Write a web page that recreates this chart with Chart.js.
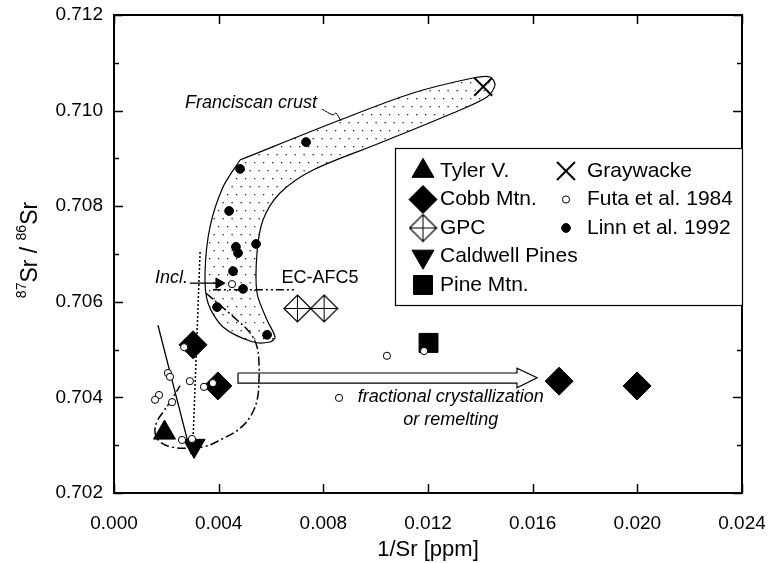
<!DOCTYPE html>
<html>
<head>
<meta charset="utf-8">
<script src="https://cdn.jsdelivr.net/npm/chart.js@4.4.1/dist/chart.umd.min.js"></script>
<style>
  html, body { margin: 0; padding: 0; background: #fff; }
  #wrap { width: 769px; height: 563px; }
</style>
</head>
<body>
<div id="wrap"><canvas id="srChart" width="769" height="563"></canvas></div>
<script>
(function () {
  'use strict';

  // x = 1/Sr [ppm], y = 87Sr/86Sr
  var tylerX = [0.00193], tylerY = [0.70326];
  var cobbX = [0.00302, 0.00397, 0.01701, 0.01999];
  var cobbY = [0.70510, 0.70424, 0.70434, 0.70424];
  var gpcX = [0.00701, 0.00803], gpcY = [0.70586, 0.70586];
  var caldX = [0.00306], caldY = [0.70299];
  var pineX = [0.01202], pineY = [0.70514];
  var grayX = [0.01411], grayY = [0.71050];
  var futaX = [0.00451, 0.01043, 0.01185, 0.00860, 0.00268, 0.00206, 0.00214, 0.00290,
               0.00344, 0.00378, 0.00172, 0.00157, 0.00222, 0.00260, 0.00298];
  var futaY = [0.70637, 0.70487, 0.70497, 0.70399, 0.70505, 0.70451, 0.70443, 0.70434,
               0.70422, 0.70430, 0.70405, 0.70395, 0.70390, 0.70311, 0.70313];
  var linnX = [0.00734, 0.00482, 0.00440, 0.00543, 0.00466, 0.00474, 0.00455, 0.00493, 0.00394, 0.00585];
  var linnY = [0.70934, 0.70878, 0.70790, 0.70721, 0.70715, 0.70702, 0.70664, 0.70627, 0.70589, 0.70531];

  // Franciscan crust field outline
  var crustX = [0.004815, 0.008637, 0.011427, 0.013720, 0.014369, 0.014561, 0.014255, 0.012955,
                0.010166, 0.007605, 0.006344, 0.005694, 0.005465, 0.005465, 0.005847, 0.006153,
                0.005962, 0.005312, 0.004166, 0.003592, 0.003478, 0.003669, 0.004166, 0.004815];
  var crustY = [0.708967, 0.709803, 0.710368, 0.710682, 0.710703, 0.710536, 0.710285, 0.709950,
                0.709322, 0.708757, 0.708276, 0.707711, 0.707021, 0.706184, 0.705619, 0.705264,
                0.705159, 0.705159, 0.705473, 0.705975, 0.706603, 0.707565, 0.708402, 0.708967];

  // model curves
  var solidX = [0.00168, 0.00294], solidY = [0.70551, 0.70282];
  var dottedX = [0.00329, 0.00302], dottedY = [0.70704, 0.70311];
  var curveX = [0.00352, 0.00405, 0.00470, 0.00520, 0.00547, 0.00554, 0.00554, 0.00547, 0.00520, 0.00474,
                0.00413, 0.00352, 0.00290, 0.00222, 0.00176, 0.00157, 0.00164, 0.00187, 0.00214, 0.00252];
  var curveY = [0.70618, 0.70593, 0.70562, 0.70535, 0.70505, 0.70472, 0.70436, 0.70395, 0.70359, 0.70332,
                0.70313, 0.70298, 0.70294, 0.70296, 0.70307, 0.70326, 0.70349, 0.70369, 0.70390, 0.70424];
  var ecX = [0.00378, 0.00692], ecY = [0.70625, 0.70625];
  var inclX = [0.00290, 0.00400], inclY = [0.70639, 0.70639];
  var inclHeadX = [0.00401], inclHeadY = [0.70639];
  var leaderX = [0.00795, 0.00837, 0.00848, 0.00868], leaderY = [0.71003, 0.70991, 0.70995, 0.70978];
  var arrowX = [0.00474, 0.01540, 0.01540, 0.01617, 0.01540, 0.01540, 0.00474, 0.00474];
  var arrowY = [0.70451, 0.70451, 0.70461, 0.70441, 0.70420, 0.70430, 0.70430, 0.70451];

  // annotations (data units)
  var noteText = ['Franciscan crust', 'Incl.', 'EC-AFC5', 'fractional crystallization', 'or remelting'];
  var noteX = [0.00271, 0.00283, 0.00787, 0.01287, 0.01287];
  var noteY = [0.71016, 0.70650, 0.70650, 0.70401, 0.70353];
  var noteAlign = ['left', 'right', 'center', 'center', 'center'];
  var noteItalic = [true, true, false, true, true];

  var FONT = "'Liberation Sans', Arial, Helvetica, sans-serif";
  Chart.defaults.font.family = FONT;
  Chart.defaults.color = '#000';

  function pts(xs, ys) {
    return xs.map(function (x, i) { return { x: x, y: ys[i] }; });
  }

  var canvas = document.getElementById('srChart');
  var ctx = canvas.getContext('2d');

  function dotPattern() {
    var c = document.createElement('canvas');
    c.width = 9; c.height = 16;
    var g = c.getContext('2d');
    g.fillStyle = '#222';
    g.fillRect(2, 2, 1.3, 1.3);
    g.fillRect(6.5, 10, 1.3, 1.3);
    return ctx.createPattern(c, 'repeat');
  }

  function gpcMarker() {
    var c = document.createElement('canvas');
    c.width = 29; c.height = 29;
    var g = c.getContext('2d'), m = 14.5, r = 13.5;
    g.fillStyle = '#fff'; g.strokeStyle = '#000'; g.lineWidth = 1.2;
    g.beginPath();
    g.moveTo(m, m - r); g.lineTo(m + r, m); g.lineTo(m, m + r); g.lineTo(m - r, m);
    g.closePath(); g.fill(); g.stroke();
    g.lineWidth = 1;
    g.beginPath();
    g.moveTo(m, m - r); g.lineTo(m, m + r);
    g.moveTo(m - r, m); g.lineTo(m + r, m);
    g.stroke();
    return c;
  }
  var gpcImg = gpcMarker();

  function markerSet(label, xs, ys, style, radius, fill, border, rot, order) {
    return {
      label: label, data: pts(xs, ys), showLine: false,
      pointStyle: style, pointRadius: radius, pointRotation: rot || 0,
      pointBackgroundColor: fill, pointBorderColor: '#000', pointBorderWidth: border,
      order: order
    };
  }

  function lineSet(xs, ys, dash, width, tension) {
    return {
      label: '', data: pts(xs, ys), showLine: true, pointRadius: 0,
      borderColor: '#000', borderWidth: width, borderDash: dash,
      tension: tension, fill: false, order: 5
    };
  }

  var tylerSet = markerSet('Tyler V.', tylerX, tylerY, 'triangle', 12.7, '#000', 1, 0, 2);
  var cobbSet = markerSet('Cobb Mtn.', cobbX, cobbY, 'rectRot', 14, '#000', 1, 0, 2);
  var gpcSet = markerSet('GPC', gpcX, gpcY, gpcImg, 14, '#fff', 1, 0, 2);
  var caldSet = markerSet('Caldwell Pines', caldX, caldY, 'triangle', 12.7, '#000', 1, 180, 2);
  var pineSet = markerSet('Pine Mtn.', pineX, pineY, 'rect', 13.4, '#000', 1, 0, 2);
  var graySet = markerSet('Graywacke', grayX, grayY, 'crossRot', 12.7, '#000', 2, 0, 2);
  var futaSet = markerSet('Futa et al. 1984', futaX, futaY, 'circle', 3.6, '#fff', 1, 0, 1);
  var linnSet = markerSet('Linn et al. 1992', linnX, linnY, 'circle', 4.4, '#000', 1, 0, 1);

  var crustSet = {
    label: '', data: pts(crustX, crustY), showLine: true, pointRadius: 0,
    borderColor: '#000', borderWidth: 1.2, tension: 0.3,
    fill: 'shape', backgroundColor: dotPattern(), order: 10
  };
  var arrowSet = {
    label: '', data: pts(arrowX, arrowY), showLine: true, pointRadius: 0,
    borderColor: '#000', borderWidth: 1.2, tension: 0,
    fill: 'shape', backgroundColor: '#fff', order: 6
  };
  var inclHead = markerSet('', inclHeadX, inclHeadY, 'triangle', 6, '#000', 1, 90, 4);

  var legendCol1 = [tylerSet, cobbSet, gpcSet, caldSet, pineSet];
  var legendCol2 = [graySet, futaSet, linnSet];

  function drawMarker(c, ds, x, y) {
    c.save();
    c.fillStyle = ds.pointBackgroundColor;
    c.strokeStyle = ds.pointBorderColor;
    c.lineWidth = ds.pointBorderWidth;
    Chart.helpers.drawPoint(c, {
      pointStyle: ds.pointStyle, rotation: ds.pointRotation,
      radius: ds.pointRadius, borderWidth: ds.pointBorderWidth
    }, x, y);
    c.restore();
  }

  var framePlugin = {
    id: 'frame',
    afterDatasetsDraw: function (chart) {
      var c = chart.ctx, a = chart.chartArea;
      var xs = chart.scales.x, ys = chart.scales.y;
      c.save();
      c.strokeStyle = '#000';
      c.lineWidth = 1.5;
      xs.ticks.forEach(function (t) {
        var px = Math.round(xs.getPixelForValue(t.value)) + 0.5;
        c.beginPath();
        c.moveTo(px, a.bottom); c.lineTo(px, a.bottom - 9);
        c.moveTo(px, a.top); c.lineTo(px, a.top + 9);
        c.stroke();
      });
      ys.ticks.forEach(function (t) {
        var py = Math.round(ys.getPixelForValue(t.value)) + 0.5;
        var len = Math.round(t.value * 1000) % 2 === 0 ? 9 : 5;
        c.beginPath();
        c.moveTo(a.left, py); c.lineTo(a.left + len, py);
        c.moveTo(a.right, py); c.lineTo(a.right - len, py);
        c.stroke();
      });
      c.lineWidth = 2;
      c.strokeRect(a.left, a.top, a.right - a.left, a.bottom - a.top);

      // text notes
      c.fillStyle = '#000';
      c.textBaseline = 'middle';
      noteText.forEach(function (txt, i) {
        c.font = (noteItalic[i] ? 'italic ' : '') + '18px ' + FONT;
        c.textAlign = noteAlign[i];
        c.fillText(txt, xs.getPixelForValue(noteX[i]), ys.getPixelForValue(noteY[i]));
      });

      // legend box
      var right = a.right, left = right - 347, top = a.top + 133, h = 157;
      c.fillStyle = '#fff';
      c.fillRect(left, top, right - left, h);
      c.lineWidth = 1.2;
      c.strokeRect(left + 0.5, top + 0.5, right - left, h);
      c.fillStyle = '#000';
      c.font = '21px ' + FONT;
      c.textAlign = 'left';
      legendCol1.forEach(function (ds, i) {
        var yy = top + 23 + i * 28.5;
        drawMarker(c, ds, left + 28, yy);
        c.fillStyle = '#000';
        c.fillText(ds.label, left + 45, yy);
      });
      legendCol2.forEach(function (ds, i) {
        var yy = top + 23 + i * 28.5;
        drawMarker(c, ds, left + 171, yy);
        c.fillStyle = '#000';
        c.fillText(ds.label, left + 192, yy);
      });

      // y axis title with superscripts
      c.save();
      c.translate(29, (a.top + a.bottom) / 2 - 4);
      c.rotate(-Math.PI / 2);
      var parts = [['87', 14, true], ['Sr / ', 23, false], ['86', 14, true], ['Sr', 23, false]];
      var total = 0;
      parts.forEach(function (p) { c.font = p[1] + 'px ' + FONT; total += c.measureText(p[0]).width; });
      var cx = -total / 2;
      c.textBaseline = 'alphabetic';
      c.textAlign = 'left';
      parts.forEach(function (p) {
        c.font = p[1] + 'px ' + FONT;
        c.fillText(p[0], cx, p[2] ? -3 : 8);
        cx += c.measureText(p[0]).width;
      });
      c.restore();
      c.restore();
    }
  };

  new Chart(canvas, {
    type: 'scatter',
    data: {
      datasets: [
        futaSet, linnSet, tylerSet, cobbSet, gpcSet, caldSet, pineSet, graySet, inclHead,
        lineSet(solidX, solidY, [], 1.3, 0),
        lineSet(dottedX, dottedY, [2, 2], 1.5, 0),
        lineSet(curveX, curveY, [9, 3, 2, 3], 1.5, 0.4),
        lineSet(ecX, ecY, [8, 3, 2, 3, 2, 3], 1.5, 0),
        lineSet(inclX, inclY, [], 1.3, 0),
        lineSet(leaderX, leaderY, [], 1, 0.3),
        arrowSet, crustSet
      ]
    },
    options: {
      responsive: false,
      animation: false,
      events: [],
      layout: { padding: { top: 15, right: 27, left: 0, bottom: 0 } },
      plugins: {
        legend: { display: false },
        tooltip: { enabled: false },
        title: { display: false }
      },
      scales: {
        x: {
          type: 'linear', position: 'bottom', min: 0, max: 0.024,
          afterFit: function (s) { s.height = 70; s.paddingLeft = 0; s.paddingRight = 0; },
          grid: { display: false, drawTicks: false },
          border: { display: false },
          ticks: {
            stepSize: 0.004, autoSkip: false, maxRotation: 0, padding: 19,
            font: { size: 19 }, color: '#000',
            callback: function (v) { return v.toFixed(3); }
          },
          title: { display: true, text: '1/Sr [ppm]', font: { size: 22 }, color: '#000', padding: { top: 0, bottom: 0 } }
        },
        y: {
          type: 'linear', min: 0.702, max: 0.712,
          afterFit: function (s) { s.width = 114; s.paddingTop = 0; s.paddingBottom = 0; },
          grid: { display: false, drawTicks: false },
          border: { display: false },
          ticks: {
            stepSize: 0.001, autoSkip: false, padding: 11,
            font: { size: 19 }, color: '#000',
            callback: function (v) { return Math.round(v * 1000) % 2 === 0 ? v.toFixed(3) : ''; }
          },
          title: { display: false }
        }
      }
    },
    plugins: [framePlugin]
  });
})();
</script>
</body>
</html>
